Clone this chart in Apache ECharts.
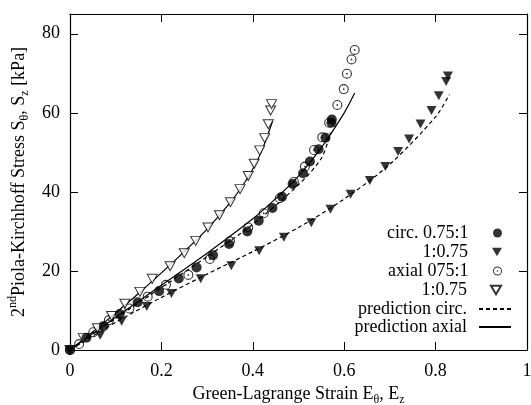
<!DOCTYPE html>
<html>
<head>
<meta charset="utf-8">
<script src="https://cdn.jsdelivr.net/npm/echarts@6/dist/echarts.min.js"></script>
<style>html,body{margin:0;padding:0;background:#fff}#c{width:531px;height:405px}</style>
</head>
<body>
<div id="c"></div>
<script>
// ---- data ----
const xTicks = [0, 0.2, 0.4, 0.6, 0.8, 1];
const yTicks = [0, 20, 40, 60, 80];

const circ075_1 = [[0,0],[0.036,3.1],[0.074,6.1],[0.109,9.1],[0.148,12.1],[0.195,14.9],[0.238,18.1],[0.277,20.9],[0.313,24.0],[0.348,26.8],[0.388,30.0],[0.413,32.7],[0.443,35.9],[0.464,38.8],[0.487,42.0],[0.510,44.7],[0.525,47.7],[0.544,50.8],[0.559,53.7],[0.572,57.5],[0.573,58.3]];
const circ1_075 = [[0,0],[0.066,3.7],[0.113,7.3],[0.168,11.0],[0.222,14.3],[0.286,18.0],[0.353,21.3],[0.414,25.1],[0.468,28.5],[0.528,32.2],[0.570,35.6],[0.614,39.4],[0.656,42.9],[0.690,46.4],[0.718,50.2],[0.742,53.4],[0.767,57.2],[0.791,60.6],[0.807,64.3],[0.823,67.9],[0.827,69.3]];
const axial075_1 = [[0,0],[0.02,1.5],[0.051,4.5],[0.085,7.5],[0.13,10.5],[0.17,13.5],[0.21,16.5],[0.259,19.0],[0.306,23.0],[0.35,27.5],[0.39,31.0],[0.424,34.6],[0.459,38.4],[0.49,42.5],[0.514,46.4],[0.534,50.6],[0.552,53.8],[0.567,57.5],[0.585,62.0],[0.599,66.0],[0.606,69.9],[0.616,73.5],[0.623,75.9]];
const axial1_075 = [[0,0],[0.029,3.0],[0.06,5.5],[0.091,8.6],[0.12,11.7],[0.153,14.7],[0.18,18.0],[0.219,21.2],[0.25,24.5],[0.275,27.6],[0.302,31.0],[0.327,34.1],[0.351,37.4],[0.372,40.7],[0.39,44.0],[0.403,47.1],[0.415,50.5],[0.426,53.6],[0.434,57.1],[0.439,60.6],[0.441,62.2]];

const predCircA = [[0,0],[0.1,8.0],[0.2,15.8],[0.3,23.6],[0.4,31.8],[0.5,41.8],[0.55,48.5],[0.57,55.0]];
const predCircB = [[0,0],[0.1,7.0],[0.2,13.3],[0.3,19.2],[0.4,24.9],[0.5,31.0],[0.6,38.2],[0.7,47.0],[0.8,59.0],[0.83,64.6]];
const predAxialA = [[0,0],[0.05,4.6],[0.1,9.4],[0.15,14.3],[0.2,19.5],[0.25,24.9],[0.3,30.6],[0.35,37.2],[0.38,42.0],[0.40,45.8],[0.42,50.5],[0.443,57.8]];
const predAxialB = [[0,0],[0.1,8.3],[0.2,16.4],[0.3,24.5],[0.4,33.2],[0.45,38.3],[0.5,44.0],[0.55,51.2],[0.6,60.0],[0.623,65.0]];

const FONT = '"Liberation Serif","DejaVu Serif",serif';
const FS = 18;
const dotCircle = 'path://M10,0A10,10,0,1,1,10,20A10,10,0,1,1,10,0Z M10,2.2A7.8,7.8,0,1,0,10,17.8A7.8,7.8,0,1,0,10,2.2Z M10,8.2A1.8,1.8,0,1,1,10,11.8A1.8,1.8,0,1,1,10,8.2Z';
const downTri = 'path://M0,0L20,0L10,17Z';

const chart = echarts.init(document.getElementById('c'), null, {renderer: 'canvas'});

function lineSeries(name, data, dashed) {
  return {name, type: 'line', data, symbol: 'none', smooth: 0.3, z: 2,
    lineStyle: {color: '#000', width: 1.2, type: dashed ? [4, 3] : 'solid'},
    itemStyle: {color: '#000'}};
}
function markerLegend(name, label, top, icon) {
  return {data: [{name, icon}], right: 29, top, orient: 'vertical', align: 'right',
    itemWidth: 10, itemHeight: 9, padding: 0, selectedMode: false,
    formatter: () => label,
    textStyle: {fontFamily: FONT, fontSize: FS, color: '#000', padding: [0, 19, 0, 0]}};
}
function lineLegend(name, label, top) {
  return {data: [name], right: 19, top, orient: 'vertical', align: 'right',
    itemWidth: 32, itemHeight: 9, padding: 0, selectedMode: false,
    itemStyle: {opacity: 0},
    formatter: () => label,
    textStyle: {fontFamily: FONT, fontSize: FS, color: '#000', padding: [0, 7, 0, 0]}};
}
function axisCommon() {
  return {
    axisLine: {show: true, onZero: false, lineStyle: {color: '#000', width: 1.2}},
    axisTick: {show: true, inside: true, length: 8, lineStyle: {color: '#000', width: 1}},
    splitLine: {show: false}
  };
}
const subStyle = {fontFamily: FONT, fontSize: 12, color: '#000', verticalAlign: 'bottom', lineHeight: 12};
const supStyle = {fontFamily: FONT, fontSize: 12, color: '#000', verticalAlign: 'top', lineHeight: 12};
const nStyle = {fontFamily: FONT, fontSize: FS, color: '#000', lineHeight: 24};

chart.setOption({
  animation: false,
  backgroundColor: '#fff',
  grid: {left: 70, right: 4, top: 14, bottom: 55, containLabel: false, outerBoundsMode: 'none'},
  xAxis: [
    Object.assign({type: 'value', min: 0, max: 1, interval: 0.2, position: 'bottom',
      name: '{n|Green-Lagrange Strain E}{sub|θ}{n|, E}{sub|z}', nameLocation: 'middle', nameGap: 31,
      nameTextStyle: {fontFamily: FONT, fontSize: FS, color: '#000', rich: {n: nStyle, sub: subStyle}},
      axisLabel: {fontFamily: FONT, fontSize: FS, color: '#000', margin: 12,
        formatter: v => xTicks.includes(+v.toFixed(2)) ? String(+v.toFixed(2)) : ''}}, axisCommon()),
    Object.assign({type: 'value', min: 0, max: 1, interval: 0.2, position: 'top', axisLabel: {show: false}}, axisCommon())
  ],
  yAxis: [
    Object.assign({type: 'value', min: 0, max: 85, interval: 20, position: 'left',
      name: '{n|2}{sup|nd}{n|Piola-Kirchhoff Stress S}{sub|θ}{n|, S}{sub|z}{n| [kPa]}', nameLocation: 'middle', nameGap: 38, nameRotate: 90,
      nameTextStyle: {fontFamily: FONT, fontSize: FS, color: '#000', rich: {n: nStyle, sup: supStyle, sub: subStyle}},
      axisLabel: {fontFamily: FONT, fontSize: FS, color: '#000', margin: 10,
        formatter: v => yTicks.includes(v) ? String(v) : ''}}, axisCommon()),
    Object.assign({type: 'value', min: 0, max: 85, interval: 20, position: 'right', axisLabel: {show: false}}, axisCommon())
  ],
  legend: [
    markerLegend('circ 0.75:1', 'circ. 0.75:1', 224, 'circle'),
    markerLegend('circ 1:0.75', '1:0.75', 243, downTri),
    markerLegend('axial 0.75:1', 'axial 075:1', 262, dotCircle),
    markerLegend('axial 1:0.75', '1:0.75', 281, downTri),
    lineLegend('prediction circ.', 'prediction circ.', 300),
    lineLegend('prediction axial', 'prediction axial', 318)
  ],
  series: [
    lineSeries('prediction circ.', predCircA, true),
    lineSeries('prediction circ.', predCircB, true),
    lineSeries('prediction axial', predAxialA, false),
    lineSeries('prediction axial', predAxialB, false),
    {name: 'axial 0.75:1', type: 'scatter', data: axial075_1, symbol: dotCircle, symbolSize: 10, z: 3,
      itemStyle: {color: '#000'}},
    {name: 'axial 1:0.75', type: 'scatter', data: axial1_075, symbol: 'triangle', symbolRotate: 180, symbolSize: [10, 9], z: 3,
      itemStyle: {color: '#fff', borderColor: '#000', borderWidth: 1}},
    {name: 'circ 0.75:1', type: 'scatter', data: circ075_1, symbol: 'circle', symbolSize: 10, z: 4,
      itemStyle: {color: '#000'}},
    {name: 'circ 1:0.75', type: 'scatter', data: circ1_075, symbol: 'triangle', symbolRotate: 180, symbolSize: [10, 9], z: 4,
      itemStyle: {color: '#000'}}
  ]
});
</script>
</body>
</html>
